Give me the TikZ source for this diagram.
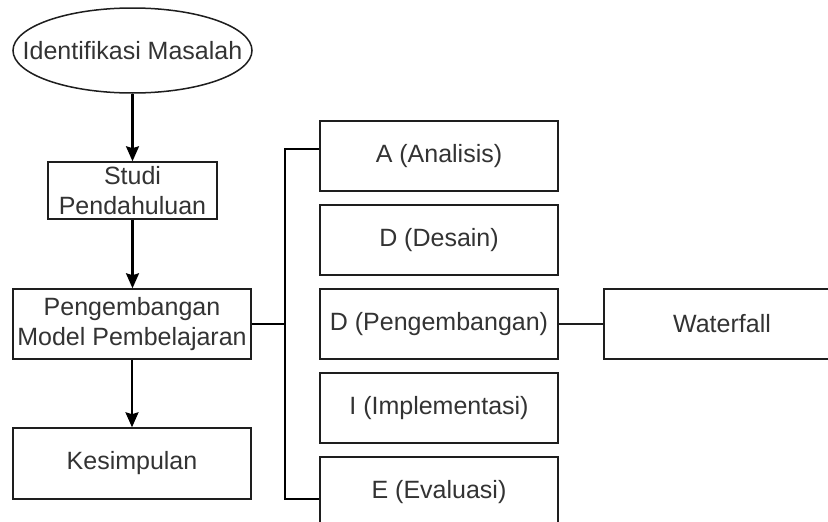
\documentclass[tikz,border=0pt]{standalone}
\usepackage{fontspec}
\setmainfont{Liberation Sans}
\usetikzlibrary{arrows.meta,shapes.geometric}
\definecolor{ink}{HTML}{1E1E1E}
\definecolor{txt}{HTML}{333333}
\tikzset{
  box/.style={draw=ink, line width=1.5pt, rectangle, inner sep=0pt,
    minimum width=238pt, minimum height=70pt, text=txt, align=center,
    font=\fontsize{25}{30}\selectfont},
  oval/.style={box, ellipse, text height=18pt, text depth=0pt},
  flow/.style={draw=black, line width=2.3pt, -{Stealth[length=15pt,width=13pt,inset=2pt]}},
  link/.style={draw=black, line width=2.8pt},
  thin link/.style={draw=ink, line width=1.8pt}
}
\begin{document}
\begin{tikzpicture}[x=1pt,y=-1pt]
\useasboundingbox (0,0) rectangle (828,522);
\clip (0,0) rectangle (828,522);
\fill[white] (0,0) rectangle (828,522);

% left column
\node[oval, minimum width=239pt, minimum height=85pt] (idm) at (132.5,50.5) {\makebox[0pt]{Identifikasi Masalah}};
\node[box, minimum width=169pt, minimum height=57pt] (studi) at (132.5,190.5) {Studi\\Pendahuluan};
\node[box] (pmp) at (132,324) {Pengembangan\\Model Pembelajaran};
\node[box, minimum height=71pt] (kes) at (132,463.5) {Kesimpulan};

% ADDIE column
\node[box] (a) at (439,156) {A (Analisis)};
\node[box] (d1) at (439,240) {D (Desain)};
\node[box] (d2) at (439,324) {D (Pengembangan)};
\node[box] (i) at (439,408) {I (Implementasi)};
\node[box] (e) at (439,492) {E (Evaluasi)};

% development method
\node[box, minimum width=236pt] (wf) at (722,324) {Waterfall};

% main flow
\draw[flow] (idm.south) -- (idm.south |- studi.north);
\draw[flow] (studi.south) -- (studi.south |- pmp.north);
\draw[flow] (pmp.south) -- (pmp.south |- kes.north);

% bracket to the ADDIE stages
\coordinate (bus) at (285,324);
\draw[link] (pmp.east) -- (bus);
\draw[link, line join=miter] ([yshift=7pt]a.west) -| (bus) |- ([yshift=-7pt]e.west);

\draw[thin link] (d2.east) -- (wf.west);
\end{tikzpicture}
\end{document}
